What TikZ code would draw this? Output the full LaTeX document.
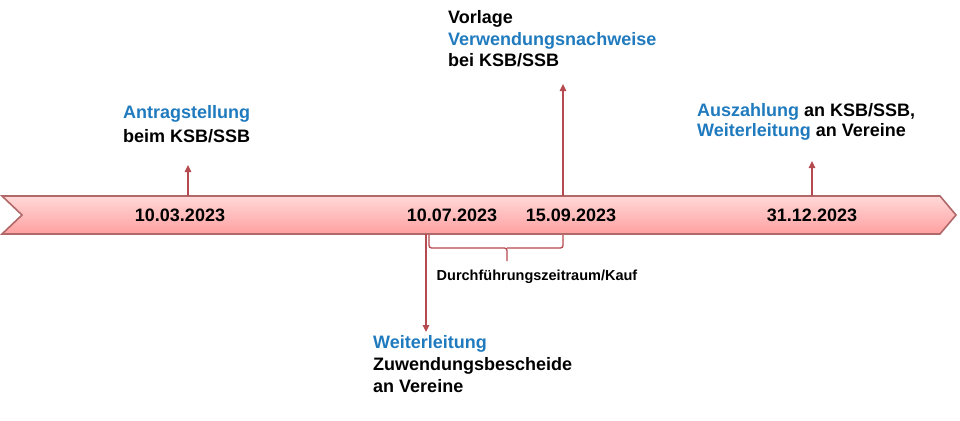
\documentclass[tikz,border=0pt]{standalone}
\usepackage{fontspec}
\setmainfont{Liberation Sans}
\usetikzlibrary{arrows.meta}
\definecolor{kblue}{RGB}{31,122,190}
\definecolor{kred}{RGB}{181,74,80}
\definecolor{kborder}{RGB}{176,104,104}
\definecolor{ktop}{RGB}{255,216,216}
\definecolor{kbot}{RGB}{255,160,160}
\begin{document}
\begin{tikzpicture}[x=1pt,y=-1pt,
  txt/.style={anchor=north west,inner sep=0pt,align=left,font=\fontsize{18}{#1}\selectfont\bfseries},
  datelbl/.style={anchor=base,inner sep=0pt,font=\fontsize{18}{20}\selectfont\bfseries},
  conn/.style={draw=kred,line width=1.4pt,-{Triangle[length=7pt,width=6.5pt]}},
  bracel/.style={draw=kred,line width=1.3pt,rounded corners=2.5pt},
  band/.style={draw=kborder,line width=1.6pt,top color=ktop,bottom color=kbot}]
\useasboundingbox (0,0) rectangle (960,420);
% band
\path[band] (2,196) -- (940,196) -- (956,215) -- (940,234) -- (2,234) -- (22,215) -- cycle;
% dates
\node[datelbl] (d1) at (180,221) {10.03.2023};
\node[datelbl] (d2) at (452,221) {10.07.2023};
\node[datelbl] (d3) at (571,221) {15.09.2023};
\node[datelbl] (d4) at (812,221) {31.12.2023};
% texts
\node[txt=24] (antrag) at (123,105) {\textcolor{kblue}{Antragstellung}\\beim KSB/SSB};
\node[txt=21.5] (vorlage) at (448,10.5) {Vorlage\\\textcolor{kblue}{Verwendungsnachweise}\\bei KSB/SSB};
\node[txt=20] (ausz) at (697,103.5) {\textcolor{kblue}{Auszahlung} an KSB/SSB,\\\textcolor{kblue}{Weiterleitung} an Vereine};
\node[txt=22] (weiter) at (373,335) {\textcolor{kblue}{Weiterleitung}\\Zuwendungsbescheide\\an Vereine};
\node[anchor=base,inner sep=0pt,font=\fontsize{14.5}{16}\selectfont\bfseries] (per) at (537,280) {Durchführungszeitraum/Kauf};
% connector coordinates
\coordinate (b1) at (188,196);
\coordinate (t1) at (188,165);
\coordinate (b2) at (563,196);
\coordinate (t2) at (563,84);
\coordinate (b3) at (812,196);
\coordinate (t3) at (812,161);
\coordinate (b4) at (426,234);
\coordinate (t4) at (426,332);
\draw[conn] (b1) -- (t1);
\draw[conn] (b2) -- (t2);
\draw[conn] (b3) -- (t3);
\draw[conn] (b4) -- (t4);
% brace
\coordinate (bl) at (429,235);
\coordinate (br) at (563,235);
\coordinate (bm) at (507,248);
\coordinate (bt) at (507,261);
\draw[bracel] (bl) |- (bm) -- (bt);
\draw[bracel] (br) |- (bm);
\end{tikzpicture}
\end{document}
